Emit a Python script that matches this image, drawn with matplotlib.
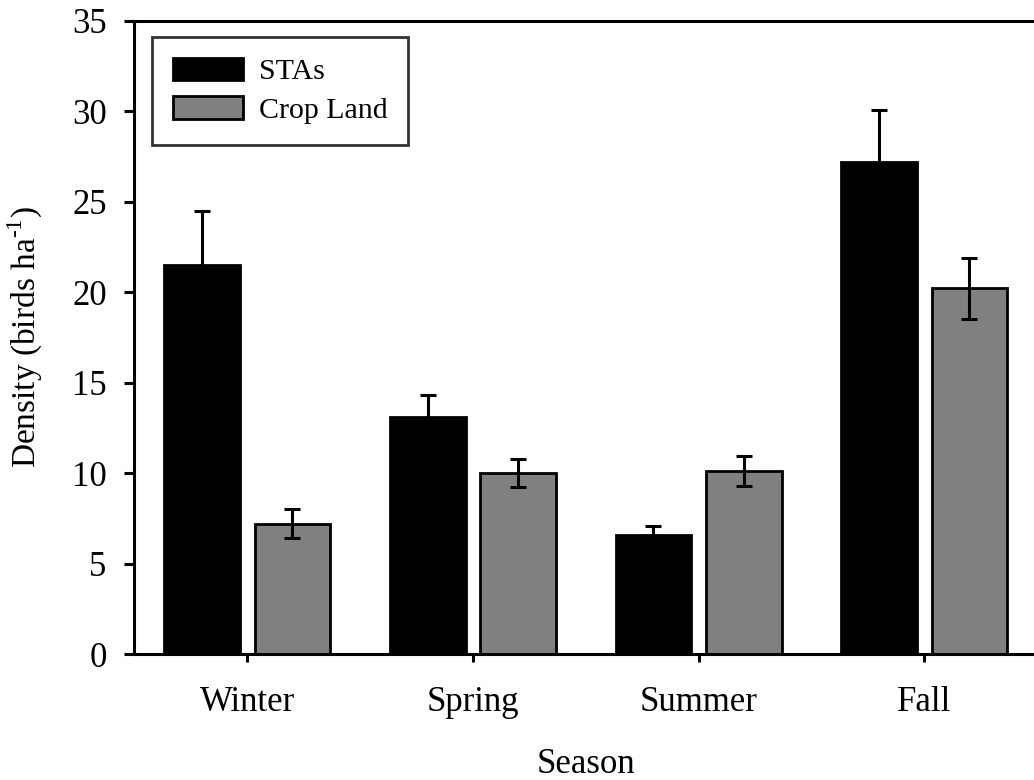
import numpy as np
import matplotlib
matplotlib.use("Agg")
import matplotlib.pyplot as plt

seasons = ["Winter", "Spring", "Summer", "Fall"]
sta_mean = [21.5, 13.1, 6.6, 27.2]
sta_se = [3.0, 1.2, 0.5, 2.85]
crop_mean = [7.2, 10.0, 10.1, 20.2]
crop_se = [0.8, 0.77, 0.82, 1.7]

plt.rcParams["font.family"] = ["Liberation Serif", "DejaVu Serif"]
plt.rcParams["mathtext.fontset"] = "custom"
plt.rcParams["mathtext.rm"] = "Liberation Serif"

fig = plt.figure(figsize=(10.34, 7.8), dpi=100)
ax = fig.add_axes([0.130, 0.1615, 0.873, 0.812])

x = np.arange(len(seasons))
width = 0.335
offset = 0.2
lw = 2.0

ax.bar(x - offset, sta_mean, width, color="black", edgecolor="black",
       linewidth=lw, label="STAs", zorder=2)
ax.bar(x + offset, crop_mean, width, color="#808080", edgecolor="black",
       linewidth=lw, label="Crop Land", zorder=2)
ax.errorbar(x - offset, sta_mean, yerr=sta_se, fmt="none", ecolor="black",
            elinewidth=2.2, capsize=6, capthick=2.2, zorder=3)
ax.errorbar(x + offset, crop_mean, yerr=crop_se, fmt="none", ecolor="black",
            elinewidth=2.2, capsize=6, capthick=2.2, zorder=3)

ax.set_xlim(-0.5, 3.5)
ax.set_ylim(0, 35)
ax.set_yticks(np.arange(0, 36, 5))
ax.set_xticks(x)
ax.set_xticklabels(seasons)

ax.spines["right"].set_visible(False)
for side in ("left", "bottom", "top"):
    ax.spines[side].set_linewidth(2.2)

ax.tick_params(axis="both", labelsize=25, width=2.2, direction="out")
ax.tick_params(axis="y", length=7, pad=13)
ax.tick_params(axis="x", length=6, pad=17)

ax.set_xlabel("Season", fontsize=25)
ax.xaxis.set_label_coords(0.5, -0.148)
ax.set_ylabel(r"Density (birds ha$^{\text{-1}}$)", fontsize=24)
ax.yaxis.set_label_coords(-0.099, 0.5)

leg = ax.legend(loc="upper left", bbox_to_anchor=(0.0194, 0.9747), fontsize=21.5,
                frameon=True, fancybox=False, handlelength=2.34, handleheight=0.8,
                borderpad=0.7, labelspacing=0.35, handletextpad=0.53,
                borderaxespad=0.0)
leg.get_frame().set_edgecolor("black")
leg.get_frame().set_linewidth(2.0)
for h in leg.legend_handles:
    h.set_linewidth(2.0)

fig.savefig("out.png", dpi=100)
